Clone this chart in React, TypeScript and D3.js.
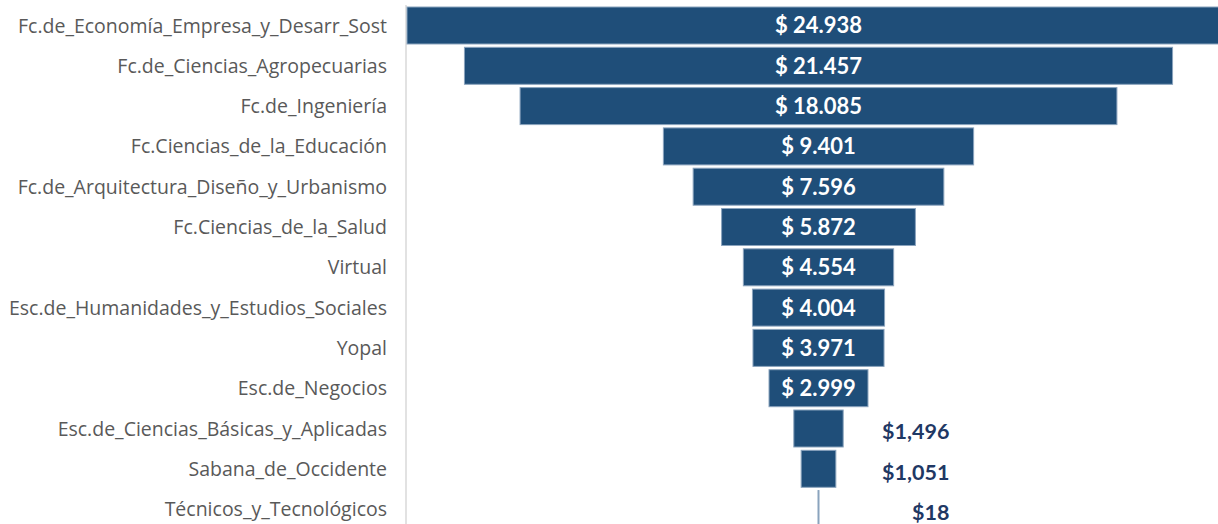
import React from "react";
import * as d3 from "d3";

const categories = [
  "Fc.de_Economía_Empresa_y_Desarr_Sost",
  "Fc.de_Ciencias_Agropecuarias",
  "Fc.de_Ingeniería",
  "Fc.Ciencias_de_la_Educación",
  "Fc.de_Arquitectura_Diseño_y_Urbanismo",
  "Fc.Ciencias_de_la_Salud",
  "Virtual",
  "Esc.de_Humanidades_y_Estudios_Sociales",
  "Yopal",
  "Esc.de_Negocios",
  "Esc.de_Ciencias_Básicas_y_Aplicadas",
  "Sabana_de_Occidente",
  "Técnicos_y_Tecnológicos",
];

const values = [24938, 21457, 18085, 9401, 7596, 5872, 4554, 4004, 3971, 2999, 1496, 1051, 18];

// labels shown inside bars use "." grouping, outside labels use ","
const insideLabel = [true, true, true, true, true, true, true, true, true, true, false, false, false];

const W = 1218;
const H = 524;

const esLocale = d3.formatLocale({ decimal: ",", thousands: ".", grouping: [3], currency: ["$ ", ""] });
const fmtInside = esLocale.format("$,d");
const fmtOutside = d3.format("$,d");

export default function App() {
  const cx = 818.5;
  const x = d3.scaleLinear().domain([0, d3.max(values) as number]).range([0, 823]);
  const y = d3
    .scaleBand<string>()
    .domain(categories)
    .range([5.35, 5.35 + 13 * 40.3])
    .paddingInner(0.082)
    .paddingOuter(0.041);
  const bw = y.bandwidth();

  return (
    <svg
      width={W}
      height={H}
      style={{ position: "absolute", left: 0, top: 0, background: "#fff" }}
      fontFamily="Lato, 'Open Sans', sans-serif"
    >
      <line x1={406} x2={406} y1={5} y2={H} stroke="#d9d9d9" strokeWidth={1.5} />
      {categories.map((c, i) => {
        const v = values[i];
        const w = Math.max(x(v), 1);
        const yy = y(c) as number;
        const mid = yy + bw / 2;
        return (
          <g key={c}>
            <text
              x={387}
              y={mid}
              dy="0.36em"
              textAnchor="end"
              fill="#595959"
              fontSize={19.5}
              fontFamily="'Open Sans', sans-serif"
            >
              {c}
            </text>
            <rect
              x={cx - w / 2}
              y={yy}
              width={w}
              height={bw}
              fill="#1f4e79"
              stroke="#8aa3bd"
              strokeWidth={1}
            />
            {insideLabel[i] ? (
              <text
                x={cx}
                y={mid}
                dy="0.36em"
                textAnchor="middle"
                fill="#ffffff"
                fontWeight="bold"
                fontSize={22}
              >
                {fmtInside(v)}
              </text>
            ) : (
              <text
                x={cx + 131}
                y={mid + 3.5}
                dy="0.34em"
                textAnchor="end"
                fill="#1f3864"
                fontWeight="bold"
                fontSize={21.5}
              >
                {fmtOutside(v)}
              </text>
            )}
          </g>
        );
      })}
    </svg>
  );
}
